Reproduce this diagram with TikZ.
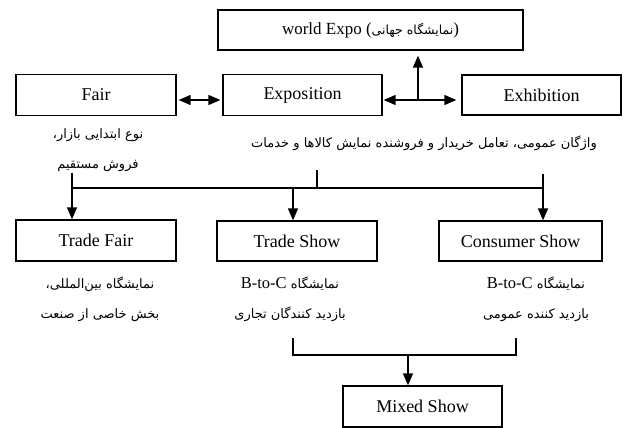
\documentclass[tikz,border=0pt]{standalone}
\usepackage{fontspec}
\setmainfont{Liberation Serif}
\newfontfamily\fa[Script=Arabic]{DejaVu Sans}
\TeXXeTstate=1
\usetikzlibrary{arrows.meta}
\begin{document}
\begin{tikzpicture}[x=1pt,y=-1pt, line width=1.4pt,
  box/.style={draw, line width=1.3pt, inner sep=0pt, font=\fontsize{18}{20}\selectfont, minimum height=41pt},
  desc/.style={inner sep=0pt, align=center, font=\fa\fontsize{13}{30}\selectfont},
  arr/.style={-{Triangle[length=12pt,width=10pt]}},
  darr/.style={{Triangle[length=12pt,width=10pt]}-{Triangle[length=12pt,width=10pt]}}]
\useasboundingbox (0,0) rectangle (624,428);
% boxes
\node[box, minimum width=305pt, minimum height=40pt, font=\fontsize{17}{20}\selectfont] (we) at (370.5,30) {world Expo ({\fa\fontsize{12.5}{14}\selectfont\beginR نمایشگاه جهانی\endR})};
\node[box, minimum width=160pt] (fair) at (96,95) {Fair};
\node[box, minimum width=159pt] (expo) at (302.5,95) {Exposition};
\node[box, minimum width=159pt, minimum height=40pt] (exhib) at (541.5,95) {Exhibition};
\node[box, minimum width=160pt] (tfair) at (96,240.5) {Trade Fair};
\node[box, minimum width=160pt, minimum height=40pt] (tshow) at (297,241) {Trade Show};
\node[box, minimum width=163pt, minimum height=40pt] (cshow) at (520.5,241) {Consumer Show};
\node[box, minimum width=159pt] (mixed) at (422.5,406.5) {Mixed Show};
% top arrows
\draw[darr, shorten <=2pt, shorten >=2pt] ([yshift=-5pt]fair.east) -- ([yshift=-5pt]expo.west);
\draw[darr, shorten <=1pt, shorten >=5pt] ([yshift=-5pt]expo.east) -- ([yshift=-5pt]exhib.west);
\coordinate (j) at (418,100);
\draw[arr, shorten >=5pt] (j) -- (j |- we.south);
% descriptions
\node[desc] (fairD) at (98,150) {\beginR نوع ابتدایی بازار،\endR\\\beginR فروش مستقیم\endR};
\node[desc] (expoD) at (424,143) {\beginR واژگان عمومی، تعامل خریدار و فروشنده نمایش کالاها و خدمات\endR};
\node[desc] (tfairD) at (100,299) {\beginR نمایشگاه بین^^^^200cالمللی،\endR\\\beginR بخش خاصی از صنعت\endR};
\node[desc] (tshowD) at (290,299) {\beginR نمایشگاه \beginL{\rmfamily\fontsize{16.5}{30}\selectfont B-to-C}\endL\endR\\\beginR بازدید کنندگان تجاری\endR};
\node[desc] (cshowD) at (536,299) {\beginR نمایشگاه \beginL{\rmfamily\fontsize{16.5}{30}\selectfont B-to-C}\endL\endR\\\beginR بازدید کننده عمومی\endR};
% upper tree
\coordinate (st) at (317,170);
\coordinate (lt) at (72,173);
\coordinate (rt) at (543,174);
\coordinate (hm) at (293,188);
\draw (lt |- hm) -- (rt |- hm);
\draw (st) -- (st |- hm);
\draw[arr] (lt) -- (lt |- tfair.north);
\draw[arr] (rt) -- (rt |- cshow.north);
\draw[arr] (hm) -- (hm |- tshow.north);
% lower bracket
\coordinate (bl) at (293,338);
\coordinate (br) at (516,338);
\coordinate (bm) at (408,355);
\draw (bl) -- (bl |- bm) -- (br |- bm) -- (br);
\draw[arr] (bm) -- (bm |- mixed.north);
\end{tikzpicture}
\end{document}
